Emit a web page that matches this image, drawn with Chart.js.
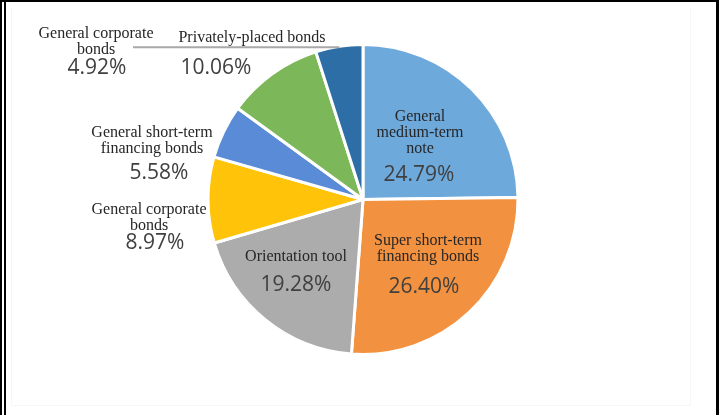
<!DOCTYPE html>
<html>
<head>
<meta charset="utf-8">
<script src="https://cdn.jsdelivr.net/npm/chart.js@4.4.0/dist/chart.umd.min.js"></script>
<style>
  html, body { margin: 0; padding: 0; background: #fff; }
  #frame { position: relative; width: 719px; height: 415px; overflow: hidden; background: #fff; }
  #pie { position: absolute; left: 0; top: 0; }
  .rule { position: absolute; background: #000; }
  .inner { position: absolute; left: 11px; top: 8px; width: 680px; height: 398px; border: 1px solid #f6f6f6; border-top: none; box-sizing: border-box; }
</style>
</head>
<body>
<div id="frame">
  <div class="inner"></div>
  <canvas id="pie" width="719" height="415"></canvas>
  <div class="rule" style="left:0;top:0;width:2px;height:415px"></div>
  <div class="rule" style="left:4px;top:0;width:2px;height:415px"></div>
  <div class="rule" style="left:0;top:0;width:719px;height:2px"></div>
  <div class="rule" style="left:716px;top:0;width:3px;height:415px"></div>
</div>
<script>
// bond issuance structure, clockwise from 12 o'clock
const categories = [
	['General', 'medium-term', 'note'],
	['Super short-term', 'financing bonds'],
	['Orientation tool'],
	['General corporate', 'bonds'],
	['General short-term', 'financing bonds'],
	['Privately-placed bonds'],
	['General corporate', 'bonds']
];
const shares = [24.79, 26.40, 19.28, 8.97, 5.58, 10.06, 4.92];
const colors = ['#6ea9dc', '#f2913f', '#acacac', '#ffc30a', '#5a8bd6', '#7cb85a', '#2e6ea6'];

// where each label block sits, relative to the pie centre
// [name x, first line y, percent x, percent y]
const labelSpots = [
	[57, -83, 56, -24],
	[65, 41, 61, 88],
	[-67, 57, -67, 86],
	[-214, 10, -208, 44],
	[-211, -67, -204, -26],
	[-111, -162, -147, -131],
	[-267, -166, -266, -131]
];
const leaderSlice = 6;
const leaderEndX = -230;

const sliceLabels = {
	id: 'sliceLabels',
	afterDatasetsDraw(chart) {
		const ctx = chart.ctx;
		const meta = chart.getDatasetMeta(0);
		ctx.save();

		// leader line for the small dark slice
		const a = meta.data[leaderSlice];
		const mid = (a.startAngle + a.endAngle) / 2;
		const px = a.x + (a.outerRadius - 1) * Math.cos(mid);
		const py = a.y + (a.outerRadius - 1) * Math.sin(mid);
		ctx.strokeStyle = '#a9a9a9';
		ctx.lineWidth = 2;
		ctx.beginPath();
		ctx.moveTo(px, py);
		ctx.lineTo(a.x + leaderEndX, py);
		ctx.stroke();

		ctx.textAlign = 'center';
		ctx.textBaseline = 'middle';
		meta.data.forEach((arc, i) => {
			const spot = labelSpots[i];
			ctx.fillStyle = '#262626';
			ctx.font = '16px "Liberation Serif", "Times New Roman", serif';
			categories[i].forEach((line, k) => {
				ctx.fillText(line, arc.x + spot[0], arc.y + spot[1] + k * 16);
			});
			ctx.fillStyle = '#404040';
			ctx.font = '21px "Open Sans", sans-serif';
			ctx.fillText(shares[i].toFixed(2) + '%', arc.x + spot[2], arc.y + spot[3]);
		});
		ctx.restore();
	}
};

new Chart(document.getElementById('pie'), {
	type: 'pie',
	data: {
		labels: categories.map(c => c.join(' ')),
		datasets: [{
			data: shares,
			backgroundColor: colors,
			borderColor: '#ffffff',
			borderWidth: 3
		}]
	},
	options: {
		responsive: false,
		animation: false,
		radius: 155,
		layout: { padding: { left: 7, right: 0, top: 0, bottom: 16 } },
		plugins: {
			legend: { display: false },
			tooltip: { enabled: false }
		}
	},
	plugins: [sliceLabels]
});
</script>
</body>
</html>
